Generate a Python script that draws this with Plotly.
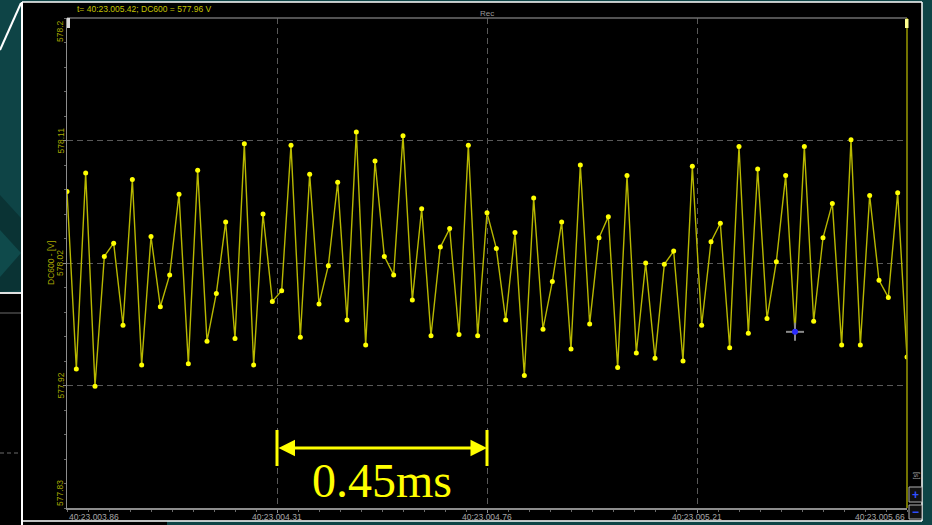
import plotly.graph_objects as go

# ---------------- data ----------------
values = [
    578.069, 577.935, 578.083, 577.922, 578.020, 578.030, 577.968, 578.078, 577.938, 578.035,
    577.982, 578.006, 578.067, 577.939, 578.085, 577.956, 577.992, 578.046, 577.958, 578.105,
    577.938, 578.052, 577.986, 577.994, 578.104, 577.959, 578.082, 577.984, 578.013, 578.076,
    577.972, 578.114, 577.953, 578.092, 578.020, 578.006, 578.111, 577.987, 578.056, 577.960,
    578.027, 578.041, 577.961, 578.104, 577.960, 578.053, 578.026, 577.972, 578.038, 577.930,
    578.064, 577.965, 578.001, 578.046, 577.950, 578.089, 577.969, 578.034, 578.050, 577.936,
    578.081, 577.947, 578.015, 577.943, 578.014, 578.024, 577.941, 578.088, 577.968, 578.031,
    578.045, 577.951, 578.103, 577.962, 578.086, 577.973, 578.016, 578.081, 577.963, 578.103,
    577.971, 578.034, 578.060, 577.953, 578.108, 577.953, 578.066, 578.002, 577.989, 578.068,
    577.944,
]
t0_ms = 3.86          # sample time of first point (ms within 40:23.00x)
sample_period_ms = 0.02
times = [round(t0_ms + sample_period_ms * i, 4) for i in range(len(values))]

x_tick_vals = [3.86, 4.31, 4.76, 5.21, 5.66]
x_tick_text = ["40:23.003.86", "40:23.004.31", "40:23.004.76", "40:23.005.21", "40:23.005.66"]
y_tick_vals = [578.2, 578.1075, 578.015, 577.9225, 577.83]
y_tick_text = ["578.2", "578.11", "578.02", "577.92", "577.83"]

cursor_index = 78
span_start, span_end = 4.31, 4.76
span_label = "0.45ms"
header_text = "t= 40:23.005.42; DC600 = 577.96 V"
y_title = "DC600 - [V]"

# ---------------- layout helpers (pixel -> paper) ----------------
W, H = 932, 525
L, R, T, B = 67, 25, 18, 17
PW, PH = W - L - R, H - T - B


def px(x):
    return (x - L) / PW


def py(y):
    return (H - B - y) / PH


TEAL = "#0e4446"
OLIVE = "#a8a800"
GRID = "#595959"
AXIS = "#8c8c8c"

fig = go.Figure()
fig.add_trace(go.Scatter(
    x=times, y=values, mode="lines+markers",
    line=dict(color="#b8b800", width=1.4),
    marker=dict(color="#ffff00", size=5, line=dict(width=0)),
    hoverinfo="skip", showlegend=False,
))

shapes = []


def rect(x0, y0, x1, y1, fill, line=None, layer="below"):
    shapes.append(dict(type="rect", xref="paper", yref="paper",
                       x0=px(x0), x1=px(x1), y0=py(y0), y1=py(y1),
                       fillcolor=fill, line=dict(width=0) if line is None else line,
                       layer=layer))


def seg(x0, y0, x1, y1, color, width=1, dash=None, layer="above"):
    d = dict(type="line", xref="paper", yref="paper",
             x0=px(x0), x1=px(x1), y0=py(y0), y1=py(y1),
             line=dict(color=color, width=width), layer=layer)
    if dash:
        d["line"]["dash"] = dash
    shapes.append(d)


# slide background around the window
rect(0, 0, 21, 293, TEAL)
shapes.append(dict(type="path", xref="paper", yref="paper", layer="below",
                   path=f"M {px(0)},{py(195)} L {px(21)},{py(218)} L {px(21)},{py(290)} L {px(0)},{py(292)} Z",
                   fillcolor="#0a3334", line=dict(width=0)))
shapes.append(dict(type="path", xref="paper", yref="paper", layer="below",
                   path=f"M {px(0)},{py(230)} L {px(21)},{py(253)} L {px(0)},{py(277)} Z",
                   fillcolor="#0f4a4b", line=dict(width=0)))
rect(0, 0, 932, 2, TEAL)
rect(922, 0, 932, 525, TEAL)
rect(167, 521, 932, 525, TEAL)
seg(0, 50, 21, 3, "#ffffff", 2)
seg(0, 293, 21, 293, "#e0e0e0", 2)
seg(0, 313, 21, 313, "#6a6a6a", 1)
seg(0, 453, 18, 453, "#6a6a6a", 1, dash="4px,3px")
# window frame
seg(22, 2, 22, 525, "#ffffff", 2)
seg(22, 2, 922, 2, "#ffffff", 1.5)
seg(922, 2, 922, 521, "#ffffff", 1.5)
seg(22, 521, 922, 521, "#ffffff", 1.5)

# top border of the plot area
seg(67, 18, 907, 18, "#6e6e6e", 1.5)
# right cursor line
seg(907, 18, 907, 508, "#9a9a00", 1.5)
rect(905, 19, 908.5, 28, "#ffff90", layer="above")
rect(67, 18, 70, 28, "#d8d8d8", layer="above")

# measurement bars
for xv in (span_start, span_end):
    shapes.append(dict(type="line", xref="x", yref="paper", x0=xv, x1=xv,
                       y0=py(466), y1=py(430), line=dict(color="#ffff00", width=3),
                       layer="above"))

# crosshair cursor at a data point
cx, cy = times[cursor_index], values[cursor_index]
for (x0, x1, y0, y1) in [(-9, 9, 0, 0), (0, 0, -9, 9)]:
    shapes.append(dict(type="line", xref="x", yref="y", xsizemode="pixel", ysizemode="pixel",
                       xanchor=cx, yanchor=cy, x0=x0, x1=x1, y0=y0, y1=y1,
                       line=dict(color="#8a8a8a", width=2), layer="above"))
shapes.append(dict(type="circle", xref="x", yref="y", xsizemode="pixel", ysizemode="pixel",
                   xanchor=cx, yanchor=cy, x0=-3, x1=3, y0=-3, y1=3,
                   fillcolor="#2a2aff", line=dict(width=0), layer="above"))

# zoom buttons bottom right
rect(909, 487, 922, 502, "#111111", line=dict(color="#b0b0b0", width=1), layer="above")
rect(909, 505, 922, 519, "#111111", line=dict(color="#b0b0b0", width=1), layer="above")

annotations = []
FONT = "Liberation Sans"

for i, (v, t) in enumerate(zip(x_tick_vals, x_tick_text)):
    anchor = "left" if i == 0 else ("right" if i == len(x_tick_vals) - 1 else "center")
    annotations.append(dict(x=v, y=py(517), xref="x", yref="paper", text=t, showarrow=False,
                            xanchor=anchor, yanchor="middle",
                            font=dict(family=FONT, size=8.5, color="#a6a6a6")))

for i, (v, t) in enumerate(zip(y_tick_vals, y_tick_text)):
    anchor = "top" if i == 0 else ("bottom" if i == len(y_tick_vals) - 1 else "middle")
    annotations.append(dict(x=px(60), y=v, xref="paper", yref="y", text=t, showarrow=False,
                            textangle=-90, xanchor="center", yanchor=anchor,
                            font=dict(family=FONT, size=8.5, color=OLIVE)))

annotations.append(dict(x=px(51), y=py(263), xref="paper", yref="paper", text=y_title,
                        showarrow=False, textangle=-90, xanchor="center", yanchor="middle",
                        font=dict(family=FONT, size=8.5, color=OLIVE)))
annotations.append(dict(x=px(75), y=py(8.5), xref="paper", yref="paper", text=header_text,
                        showarrow=False, xanchor="left", yanchor="middle",
                        font=dict(family=FONT, size=8.5, color="#c4c400")))
annotations.append(dict(x=px(487), y=py(13.5), xref="paper", yref="paper", text="Rec",
                        showarrow=False, xanchor="center", yanchor="middle",
                        font=dict(family=FONT, size=8, color="#9a9a9a")))
annotations.append(dict(x=px(915.5), y=py(476), xref="paper", yref="paper", text="[s]",
                        showarrow=False, textangle=-90, xanchor="center", yanchor="middle",
                        font=dict(family=FONT, size=7, color="#a0a0a0")))
annotations.append(dict(x=px(915.5), y=py(494.5), xref="paper", yref="paper", text="<b>+</b>",
                        showarrow=False, xanchor="center", yanchor="middle",
                        font=dict(family=FONT, size=12, color="#3050ff")))
annotations.append(dict(x=px(915.5), y=py(512), xref="paper", yref="paper", text="<b>−</b>",
                        showarrow=False, xanchor="center", yanchor="middle",
                        font=dict(family=FONT, size=12, color="#3050ff")))

# double-headed measurement arrow
annotations.append(dict(x=span_end, y=py(448), ax=span_start, ay=0,
                        xref="x", yref="paper", axref="x", ayref="pixel", text="",
                        showarrow=True, arrowhead=2, startarrowhead=2, arrowside="end+start",
                        arrowsize=1.1, startarrowsize=1.1, arrowwidth=3, arrowcolor="#ffff00",
                        standoff=0, startstandoff=0))
annotations.append(dict(x=(span_start + span_end) / 2, y=py(480), xref="x", yref="paper",
                        text=span_label, showarrow=False, xanchor="center", yanchor="middle",
                        font=dict(family="Liberation Serif", size=48, color="#ffff00")))

fig.update_layout(
    width=W, height=H, autosize=False,
    margin=dict(l=L, r=R, t=T, b=B, pad=0),
    paper_bgcolor="#000000", plot_bgcolor="#000000",
    showlegend=False,
    shapes=shapes, annotations=annotations,
    xaxis=dict(range=[x_tick_vals[0], x_tick_vals[-1]], tickvals=x_tick_vals[1:-1],
               showticklabels=False, showgrid=True, gridcolor=GRID, griddash="6px,4px",
               gridwidth=1, zeroline=False, showline=True, linecolor=AXIS, linewidth=1.5,
               ticks="outside", ticklen=3, tickcolor=AXIS,
               minor=dict(dtick=(x_tick_vals[1] - x_tick_vals[0]) / 10, tick0=x_tick_vals[0],
                          ticks="outside", ticklen=2, tickcolor="#6a6a6a", showgrid=False)),
    yaxis=dict(range=[y_tick_vals[-1], y_tick_vals[0]], tickvals=y_tick_vals[1:-1],
               showticklabels=False, showgrid=True, gridcolor=GRID, griddash="6px,4px",
               gridwidth=1, zeroline=False, showline=True, linecolor=AXIS, linewidth=1.5,
               ticks="outside", ticklen=3, tickcolor=AXIS,
               minor=dict(dtick=(y_tick_vals[0] - y_tick_vals[1]) / 5, tick0=y_tick_vals[-1],
                          ticks="outside", ticklen=2, tickcolor="#6a6a6a", showgrid=False)),
)

fig.write_html(
    "out.html",
    config={"displayModeBar": False, "staticPlot": True},
    post_script="document.body.style.margin='0';document.body.style.padding='0';"
                "document.body.style.overflow='hidden';document.body.style.background='#000';",
)
